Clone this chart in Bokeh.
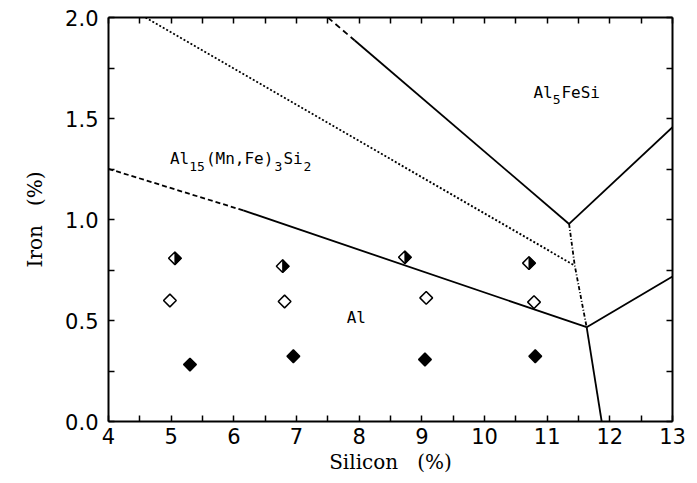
import math
from bokeh.plotting import figure
from bokeh.models import Range1d, LinearAxis, FixedTicker
from bokeh.core.properties import value
from bokeh.embed import file_html
from bokeh.resources import INLINE

# ---------------- data ----------------
si_major = [4, 5, 6, 7, 8, 9, 10, 11, 12, 13]
si_minor = [4.5, 5.5, 6.5, 7.5, 8.5, 9.5, 10.5, 11.5, 12.5]
si_labels = ["4", "5", "6", "7", "8", "9", "10", "11", "12", "13"]
fe_major = [0.0, 0.5, 1.0, 1.5, 2.0]
fe_minor = [0.25, 0.75, 1.25, 1.75]
fe_labels = ["0.0", "0.5", "1.0", "1.5", "2.0"]

# phase boundaries (Si %, Fe %)
al15_dash_si = [4.0, 6.15]
al15_dash_fe = [1.251, 1.045]
al15_solid_si = [6.15, 11.63]
al15_solid_fe = [1.045, 0.467]
fesi_dash_si = [7.5, 7.93]
fesi_dash_fe = [2.0, 1.886]
fesi_solid_si = [7.93, 11.35]
fesi_solid_fe = [1.886, 0.978]
dotted_si = [4.59, 11.44]
dotted_fe = [2.0, 0.772]
dashdot_si = [11.35, 11.44, 11.63]
dashdot_fe = [0.978, 0.772, 0.467]
eutectic_si = [11.63, 11.87]
eutectic_fe = [0.467, 0.0]
upper_right_si = [11.35, 13.0]
upper_right_fe = [0.978, 1.457]
lower_right_si = [11.63, 13.0]
lower_right_fe = [0.467, 0.718]

# alloy compositions
half_si = [5.06, 6.78, 8.73, 10.71]
half_fe = [0.808, 0.769, 0.813, 0.784]
open_si = [4.98, 6.81, 9.07, 10.79]
open_fe = [0.599, 0.594, 0.612, 0.591]
filled_si = [5.30, 6.95, 9.05, 10.81]
filled_fe = [0.282, 0.323, 0.307, 0.323]

# region labels
main_text = ["Al", "(Mn,Fe)", "Si", "Al", "FeSi", "Al"]
main_si = [4.98, 4.98, 4.98, 10.78, 10.78, 7.80]
main_fe = [1.303, 1.303, 1.303, 1.627, 1.627, 0.513]
sub_text = ["15", "3", "2", "5"]
sub_si = [4.98, 4.98, 4.98, 10.78]
sub_fe = [1.303, 1.303, 1.303, 1.627]

# ---------------- figure ----------------
FW, FH = 564, 404
p = figure(frame_width=FW, frame_height=FH,
           x_range=Range1d(4, 13), y_range=Range1d(0, 2),
           output_backend="svg", toolbar_location=None,
           min_border_left=108, min_border_right=17,
           min_border_top=17, min_border_bottom=50)
p.xgrid.visible = False
p.ygrid.visible = False
p.outline_line_color = None
p.background_fill_color = "white"
p.border_fill_color = "white"


def style_axis(ax):
    ax.axis_line_color = "black"
    ax.axis_line_width = 2
    ax.major_tick_in = 6
    ax.major_tick_out = 0
    ax.minor_tick_in = 6
    ax.minor_tick_out = 0
    ax.major_tick_line_width = 1.5
    ax.minor_tick_line_width = 1.5
    ax.major_tick_line_color = "black"
    ax.minor_tick_line_color = "black"
    ax.major_label_text_font = "DejaVu Sans"
    ax.major_label_text_font_size = "21px"
    ax.major_label_text_color = "black"
    ax.axis_label_text_font = "DejaVu Serif"
    ax.axis_label_text_font_size = "20px"
    ax.axis_label_text_font_style = "normal"
    ax.axis_label_text_color = "black"


xa = p.xaxis[0]
xa.ticker = FixedTicker(ticks=si_major, minor_ticks=si_minor)
xa.major_label_overrides = {t: l for t, l in zip(si_major, si_labels)}
xa.axis_label = "Silicon\u00a0\u00a0\u00a0(%)"
style_axis(xa)
xa.major_label_standoff = 6
xa.axis_label_standoff = 3

ya = p.yaxis[0]
ya.ticker = FixedTicker(ticks=fe_major, minor_ticks=fe_minor)
ya.major_label_overrides = {t: l for t, l in zip(fe_major, fe_labels)}
ya.axis_label = "Iron\u00a0\u00a0\u00a0(%)"
style_axis(ya)
ya.major_label_standoff = 10
ya.axis_label_standoff = 15

top = LinearAxis(ticker=FixedTicker(ticks=[], minor_ticks=si_major + si_minor))
style_axis(top)
p.add_layout(top, "above")
right = LinearAxis(ticker=FixedTicker(ticks=[], minor_ticks=fe_major + fe_minor))
style_axis(right)
p.add_layout(right, "right")

# ---------------- boundaries ----------------
LW = 1.8
p.line(al15_dash_si, al15_dash_fe, line_color="black", line_width=LW, line_dash="5 3")
p.line(al15_solid_si, al15_solid_fe, line_color="black", line_width=LW)
p.line(fesi_dash_si, fesi_dash_fe, line_color="black", line_width=LW, line_dash="6 4")
p.line(fesi_solid_si, fesi_solid_fe, line_color="black", line_width=LW)
p.line(dotted_si, dotted_fe, line_color="black", line_width=LW, line_dash="2 2")
p.line(dashdot_si, dashdot_fe, line_color="black", line_width=LW, line_dash="4 2 1 2")
p.line(eutectic_si, eutectic_fe, line_color="black", line_width=LW)
p.line(upper_right_si, upper_right_fe, line_color="black", line_width=LW)
p.line(lower_right_si, lower_right_fe, line_color="black", line_width=LW)

# ---------------- markers ----------------
SIDE = 9
p.scatter(open_si, open_fe, marker="square", angle=math.pi / 4, size=SIDE,
          fill_color="white", line_color="black", line_width=1.5)
p.scatter(filled_si, filled_fe, marker="square", angle=math.pi / 4, size=SIDE,
          fill_color="black", line_color="black", line_width=1.5)
p.scatter(half_si, half_fe, marker="square", angle=math.pi / 4, size=SIDE,
          fill_color="white", line_color="black", line_width=1.5)
half_diag = SIDE * math.sqrt(2) / 2
dx = half_diag * 9 / FW
dy = half_diag * 2 / FH
p.patches([[s, s + dx, s] for s in half_si],
          [[f + dy, f, f - dy] for f in half_fe],
          fill_color="black", line_color="black", line_width=1)

# ---------------- labels ----------------
main_off = [0, 36, 113.5, 0, 28, 0]
sub_off = [19.3, 104.5, 133.5, 19.3]
sub_yoff = [8.5, 8.5, 8.5, 7]
p.text(x=main_si, y=main_fe, text=main_text, x_offset=main_off,
       text_font=value("DejaVu Sans Mono"), text_font_size="16px",
       text_align="left", text_baseline="alphabetic", text_color="black")
p.text(x=sub_si, y=sub_fe, text=sub_text, x_offset=sub_off, y_offset=sub_yoff,
       text_font=value("DejaVu Sans Mono"), text_font_size="13px",
       text_align="left", text_baseline="alphabetic", text_color="black")

open("out.html", "w").write(file_html(p, INLINE))
